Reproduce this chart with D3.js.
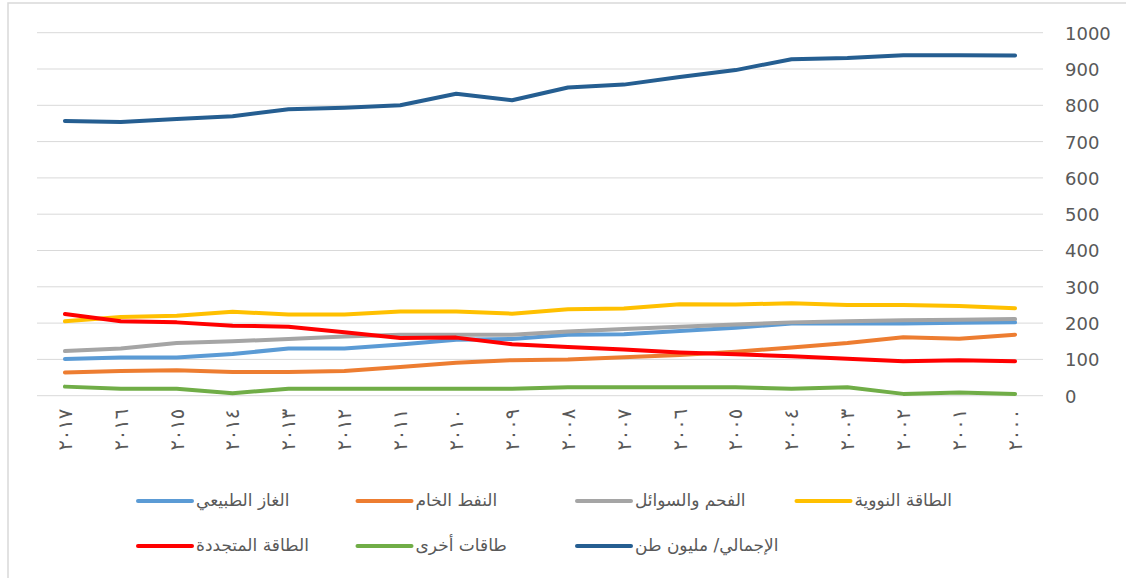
<!DOCTYPE html>
<html><head><meta charset="utf-8">
<script src="https://cdn.jsdelivr.net/npm/d3@7"></script>
<style>html,body{margin:0;padding:0;background:#fff}svg{display:block}</style>
</head><body>
<svg id="c" width="1126" height="578"></svg>
<script>
const years = ["٢٠١٧","٢٠١٦","٢٠١٥","٢٠١٤","٢٠١٣","٢٠١٢","٢٠١١","٢٠١٠","٢٠٠٩","٢٠٠٨","٢٠٠٧","٢٠٠٦","٢٠٠٥","٢٠٠٤","٢٠٠٣","٢٠٠٢","٢٠٠١","٢٠٠٠"];
const gas       = [101,105,105,115,130,130,141,154,156,168,169,178,187,199,199,199,201,202];
const oil       = [64,68,70,65,65,68,79,91,98,100,106,112,121,133,145,161,157,168];
const coal      = [123,130,145,150,156,163,168,168,168,177,184,190,196,202,205,208,209,211];
const nuclear   = [205,217,220,231,224,224,232,232,226,238,240,252,251,255,250,250,247,241];
const renewable = [225,205,202,193,190,175,159,160,142,134,127,119,114,109,102,95,98,95];
const other     = [25,19,19,7,19,19,19,19,19,23,23,23,23,19,23,5,9,5];
const total     = [757,754,762,770,789,793,800,832,814,849,857,878,897,927,930,938,938,937];
const yTicks = [0,100,200,300,400,500,600,700,800,900,1000];
const seriesNames = ["الغاز الطبيعي","النفط الخام","الفحم والسوائل","الطاقة النووية","الطاقة المتجددة","طاقات أخرى","الإجمالي/ مليون طن"];
const seriesColors = ["#5B9BD5","#ED7D31","#A5A5A5","#FFC000","#FF0000","#70AD47","#255E91"];
const seriesData = [gas, oil, coal, nuclear, renewable, other, total];

(function(){
const svg = d3.select("#c");
svg.append("rect").attr("x",8).attr("y",3).attr("width",1200).attr("height",700)
  .attr("fill","none").attr("stroke","#D9D9D9").attr("stroke-width",1.5);

const pLeft = 37, pRight = 1043, pTop = 32.7, pBottom = 395.7;
const x = d3.scaleBand().domain(years).range([pLeft, pRight]);
const y = d3.scaleLinear().domain([0,1000]).range([pBottom, pTop]);

svg.append("g").selectAll("line").data(yTicks).join("line")
  .attr("x1", pLeft).attr("x2", pRight)
  .attr("y1", d => y(d)).attr("y2", d => y(d))
  .attr("stroke", "#D9D9D9").attr("stroke-width", 1);

const yAxis = d3.axisRight(y).tickValues(yTicks).tickFormat(d3.format("d")).tickSize(0).tickPadding(0);
const ya = svg.append("g").attr("transform", `translate(1065,0)`).call(yAxis);
ya.select(".domain").remove();
ya.selectAll("text").attr("font-family","DejaVu Sans, sans-serif").attr("font-size",18)
  .attr("fill","#595959").attr("x",0).attr("dy","0.36em");

const xAxis = d3.axisBottom(x).tickSize(0).tickPadding(0);
const xa = svg.append("g").attr("transform", `translate(0,${pBottom})`).call(xAxis);
xa.select(".domain").remove();
xa.selectAll("text")
  .attr("font-family","DejaVu Sans, sans-serif").attr("font-size",19.5).attr("fill","#595959")
  .attr("transform","translate(0,13) rotate(-90)")
  .attr("text-anchor","end").attr("x",0).attr("y",0).attr("dy","0.35em");

const line = d3.line().x((d,i) => x(years[i]) + x.bandwidth()/2).y(d => y(d));
svg.append("g").selectAll("path").data(seriesData).join("path")
  .attr("d", d => line(d)).attr("fill","none")
  .attr("stroke", (d,i) => seriesColors[i]).attr("stroke-width", 4)
  .attr("stroke-linejoin","round").attr("stroke-linecap","round");

const legendPos = [[0,0],[1,0],[2,0],[3,0],[0,1],[1,1],[2,1]];
const lg = svg.append("g");
seriesNames.forEach((name, i) => {
  const [col, row] = legendPos[i];
  const lx = 138 + col * 219.5, ly = 501 + row * 45;
  lg.append("line").attr("x1", lx).attr("x2", lx + 54).attr("y1", ly).attr("y2", ly)
    .attr("stroke", seriesColors[i]).attr("stroke-width", 4).attr("stroke-linecap","round");
  lg.append("text").attr("x", lx + 58).attr("y", ly).attr("dy","0.3em")
    .attr("direction","rtl").attr("text-anchor","end")
    .attr("font-family","DejaVu Sans, sans-serif").attr("font-size",17).attr("fill","#595959")
    .text(name);
});
})();
</script>
</body></html>
